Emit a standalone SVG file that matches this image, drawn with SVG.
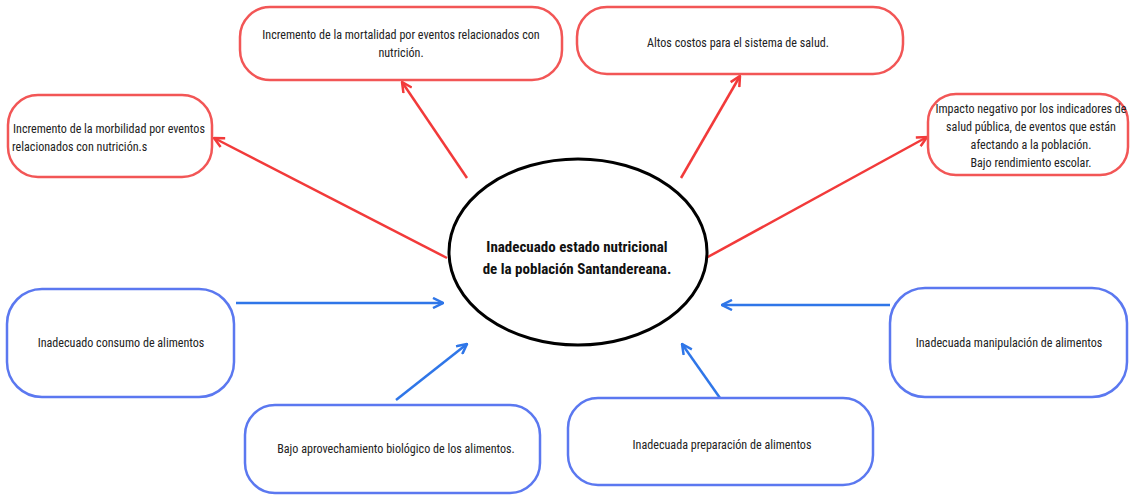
<svg xmlns="http://www.w3.org/2000/svg" width="1130" height="496" viewBox="0 0 1130 496">
<style>
.red{fill:#fff;stroke:#f25656;stroke-width:2.5}
.blue{fill:#fff;stroke:#5b78f0;stroke-width:2.5}
.t{font-family:"Liberation Sans Narrow","Roboto Condensed","DejaVu Sans Condensed",sans-serif;font-stretch:condensed;font-size:12.1px;fill:#222}
.c{text-anchor:middle}
.b{font-weight:bold;font-size:15px;fill:#111}
.ar{stroke:#f23a3a;stroke-width:2.5;fill:none}
.ab{stroke:#2f76e8;stroke-width:2.5;fill:none}
</style>
<defs>
<marker id="mr" viewBox="0 0 12 12" refX="11" refY="6" markerWidth="12" markerHeight="12" markerUnits="userSpaceOnUse" orient="auto"><path d="M1,1 L11,6 L1,11" fill="none" stroke="#f23a3a" stroke-width="2.5"/></marker>
<marker id="mb" viewBox="0 0 12 12" refX="11" refY="6" markerWidth="12" markerHeight="12" markerUnits="userSpaceOnUse" orient="auto"><path d="M1,1 L11,6 L1,11" fill="none" stroke="#2f76e8" stroke-width="2.5"/></marker>
</defs>
<rect width="1130" height="496" fill="#fff"/>
<g id="connectors">
<line class="ar" x1="447" y1="258" x2="214" y2="138" marker-end="url(#mr)"/>
<line class="ar" x1="467" y1="178" x2="402" y2="82" marker-end="url(#mr)"/>
<line class="ar" x1="681" y1="178" x2="740" y2="76" marker-end="url(#mr)"/>
<line class="ar" x1="706" y1="258" x2="927" y2="137" marker-end="url(#mr)"/>
<line class="ab" x1="236" y1="303" x2="443" y2="303" marker-end="url(#mb)"/>
<line class="ab" x1="396" y1="400" x2="467" y2="344" marker-end="url(#mb)"/>
<line class="ab" x1="720" y1="398" x2="682" y2="344" marker-end="url(#mb)"/>
<line class="ab" x1="890" y1="305" x2="722" y2="305" marker-end="url(#mb)"/>
</g>
<g id="center">
<ellipse cx="578" cy="252" rx="129" ry="93" fill="#fff" stroke="#000" stroke-width="3"/>
<text class="t c b" x="577" y="252">Inadecuado estado nutricional</text>
<text class="t c b" x="577" y="274">de la población Santandereana.</text>
</g>
<g id="n-morbilidad">
<rect class="red" x="8" y="95" width="204" height="82" rx="30"/>
<text class="t" x="13" y="133"> Incremento de la morbilidad por eventos</text>
<text class="t" x="12" y="151">relacionados con nutrición.s</text>
</g>
<g id="n-mortalidad">
<rect class="red" x="240" y="7" width="322" height="73" rx="30"/>
<text class="t c" x="401" y="39">Incremento de la mortalidad por eventos relacionados con</text>
<text class="t c" x="401" y="57">nutrición.</text>
</g>
<g id="n-costos">
<rect class="red" x="577" y="7" width="326" height="67" rx="30"/>
<text class="t c" x="738" y="47">Altos costos para el sistema de salud.</text>
</g>
<g id="n-impacto">
<rect class="red" x="928" y="94" width="200" height="81" rx="28"/>
<text class="t c" x="1031" y="113">Impacto negativo por los indicadores de</text>
<text class="t c" x="1031" y="131">salud pública, de eventos que están</text>
<text class="t c" x="1031" y="149">afectando a la población.</text>
<text class="t c" x="1031" y="167">Bajo rendimiento escolar.</text>
</g>
<g id="n-consumo">
<rect class="blue" x="7" y="289" width="227" height="108" rx="35"/>
<text class="t c" x="121" y="347">Inadecuado consumo de alimentos</text>
</g>
<g id="n-manipulacion">
<rect class="blue" x="890" y="288" width="237" height="109" rx="35"/>
<text class="t c" x="1009" y="347">Inadecuada manipulación de alimentos</text>
</g>
<g id="n-aprovechamiento">
<rect class="blue" x="245" y="405" width="295" height="88" rx="30"/>
<text class="t c" x="396" y="453">Bajo aprovechamiento biológico de los alimentos.</text>
</g>
<g id="n-preparacion">
<rect class="blue" x="568" y="398" width="305" height="87" rx="30"/>
<text class="t c" x="722" y="449">Inadecuada preparación de alimentos</text>
</g>
</svg>
